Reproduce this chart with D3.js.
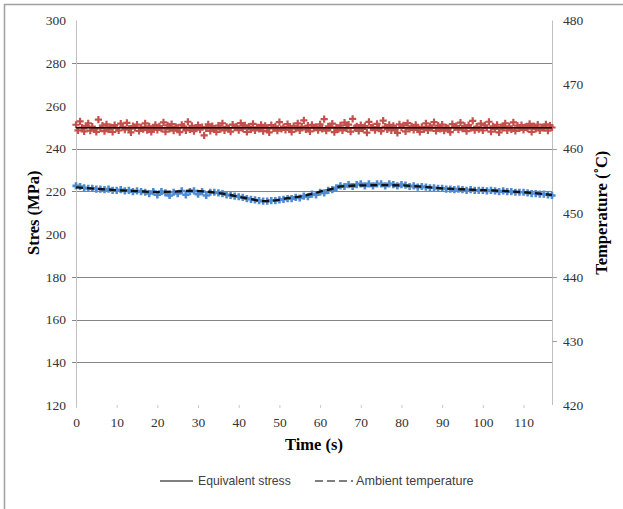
<!DOCTYPE html>
<html>
<head>
<meta charset="utf-8">
<script src="https://cdn.jsdelivr.net/npm/d3@7/dist/d3.min.js"></script>
<style>
  html, body { margin: 0; padding: 0; background: #ffffff; }
  svg { display: block; }
</style>
</head>
<body>
<svg id="chart" width="623" height="509"></svg>
<script>
// ---------------- DATA ----------------
const xTicks = [0, 10, 20, 30, 40, 50, 60, 70, 80, 90, 100, 110];
const leftTicks = [120, 140, 160, 180, 200, 220, 240, 260, 280, 300];
const rightTicks = [420, 430, 440, 450, 460, 470, 480];
const gridValues = [140, 160, 180, 220, 240, 280];
const rightTickMarks = [430, 440, 460];

// Measured stress (red markers), sampled every 0.5 s from 0 to 117 s (MPa)
const stressStep = 0.5;
const stressMeasured = [
  251.2, 248.6, 252.8, 249.9, 248.1, 250.7, 251.9, 248.4, 250.3, 249.2,
  247.9, 253.6, 249.5, 250.8, 248.2, 251.4, 249.0, 250.1, 247.8, 251.0,
  249.6, 248.5, 251.7, 250.2, 248.9, 252.1, 249.3, 247.6, 250.6, 249.8,
  251.3, 248.3, 250.0, 249.1, 251.8, 248.7, 250.4, 247.9, 249.7, 251.1,
  248.8, 250.5, 249.4, 252.3, 248.0, 250.9, 249.2, 251.5, 248.4, 250.2,
  249.7, 247.7, 251.2, 250.3, 248.6, 252.6, 249.0, 250.7, 248.2, 249.9,
  251.0, 248.9, 250.1, 246.2, 249.5, 251.4, 248.3, 250.6, 249.3, 247.9,
  250.8, 249.1, 251.9, 248.5, 250.2, 249.6, 248.0, 251.3, 249.8, 250.4,
  248.7, 252.0, 249.4, 250.9, 247.8, 250.3, 249.0, 251.6, 248.6, 250.0,
  249.3, 251.2, 248.2, 250.7, 249.7, 247.6, 251.0, 249.5, 250.5, 248.4,
  252.4, 249.2, 250.1, 248.8, 251.5, 249.9, 247.9, 250.6, 249.4, 251.8,
  248.5, 250.3, 253.2, 249.0, 250.8, 248.1, 251.1, 249.6, 250.2, 248.7,
  251.4, 249.3, 253.8, 248.4, 250.5, 249.8, 251.7, 247.7, 250.0, 249.1,
  250.9, 248.6, 252.2, 249.5, 251.3, 248.0, 253.9, 249.7, 250.4, 248.3,
  251.0, 249.2, 250.6, 247.5, 252.5, 249.9, 250.1, 248.7, 251.6, 249.4,
  248.2, 253.1, 250.3, 249.0, 251.2, 248.5, 250.7, 249.6, 247.4, 251.4,
  249.8, 250.9, 248.1, 252.0, 249.3, 250.5, 248.8, 251.1, 249.5, 247.8,
  250.2, 249.0, 251.8, 248.6, 250.4, 249.7, 252.4, 248.3, 250.8, 249.2,
  251.3, 248.4, 250.0, 249.5, 247.7, 251.5, 249.9, 250.6, 248.9, 252.2,
  249.4, 250.7, 248.2, 251.0, 249.6, 253.0, 248.7, 250.3, 249.1, 251.7,
  248.5, 250.9, 249.8, 252.6, 248.0, 250.4, 249.3, 251.2, 247.6, 250.1,
  249.7, 251.9, 248.6, 250.5, 249.0, 252.3, 248.3, 250.8, 249.5, 251.0,
  248.8, 250.2, 249.4, 251.6, 247.9, 250.6, 249.2, 251.3, 248.5, 250.0,
  249.6, 251.4, 248.4, 250.8, 249.9
];

// Equivalent stress line (MPa)
const eqStressTime = [0, 117];
const eqStressValues = [249.8, 249.8];

// Measured temperature (blue markers), every 1 s from 0 to 117 s (°C)
const tempStep = 1;
const tempMeasured = [
  454.2, 454.1, 453.9, 453.8, 453.8, 453.7, 453.7, 453.6, 453.7, 453.5,
  453.5, 453.6, 453.4, 453.5, 453.3, 453.4, 453.3, 453.2, 453.0, 453.3,
  452.8, 453.3, 453.1, 452.7, 453.2, 453.0, 453.4, 452.8, 453.3, 453.4,
  452.9, 453.3, 452.7, 453.2, 453.2, 453.1, 453.0, 452.8, 452.7, 452.6,
  452.5, 452.4, 452.2, 452.1, 452.0, 451.9, 451.8, 451.8, 451.9, 451.9,
  452.0, 452.1, 452.2, 452.2, 452.4, 452.3, 452.6, 452.5, 452.9, 452.8,
  453.2, 453.1, 453.5, 453.6, 453.9, 454.2, 454.1, 454.4, 454.1, 454.4,
  454.5, 454.2, 454.5, 454.2, 454.5, 454.5, 454.2, 454.5, 454.4, 454.2,
  454.4, 454.3, 454.1, 454.2, 454.0, 454.1, 454.0, 453.9, 453.9, 453.8,
  453.8, 453.7, 453.7, 453.6, 453.7, 453.6, 453.5, 453.6, 453.5, 453.5,
  453.5, 453.4, 453.5, 453.4, 453.3, 453.4, 453.3, 453.3, 453.2, 453.2,
  453.2, 453.1, 453.0, 453.0, 452.9, 452.9, 452.8, 452.7
];

// Ambient temperature (dashed line), °C
const ambientTime = [0, 5, 10, 15, 20, 25, 28, 32, 35, 38, 40, 43, 46, 49, 52, 55, 58, 60, 63, 65, 70, 75, 80, 85, 90, 95, 100, 105, 110, 114, 117];
const ambientTemp = [453.97, 453.73, 453.53, 453.37, 453.23, 453.33, 453.43, 453.30, 453.07, 452.77, 452.50, 452.13, 451.80, 451.93, 452.27, 452.53, 452.93, 453.30, 453.73, 454.10, 454.27, 454.30, 454.27, 454.07, 453.80, 453.67, 453.53, 453.40, 453.20, 453.00, 452.77];

const legendLabels = ["Equivalent stress", "Ambient temperature"];

// ---------------- CHART ----------------
const svg = d3.select("#chart");
const plot = { left: 76, right: 552, top: 20.5, bottom: 405 };

const x = d3.scaleLinear().domain([0, 117]).range([plot.left, plot.right]);
const yL = d3.scaleLinear().domain([120, 300]).range([plot.bottom, plot.top]);
const yR = d3.scaleLinear().domain([420, 480]).range([plot.bottom, plot.top]);

const serif = "'Liberation Serif', 'Times New Roman', serif";
const sans = "'Liberation Sans', Arial, sans-serif";

// outer border
svg.append("rect")
  .attr("x", 4.5).attr("y", 4.5).attr("width", 700).attr("height", 600)
  .attr("fill", "none").attr("stroke", "#a0a0a0").attr("stroke-width", 1.5);

// gridlines
svg.append("g").selectAll("line").data(gridValues).join("line")
  .attr("x1", plot.left - 4).attr("x2", plot.right)
  .attr("y1", d => Math.round(yL(d)) + 0.5).attr("y2", d => Math.round(yL(d)) + 0.5)
  .attr("stroke", "#858585").attr("stroke-width", 1);

// axis lines
svg.append("line")
  .attr("x1", plot.left + 0.5).attr("x2", plot.left + 0.5)
  .attr("y1", plot.top).attr("y2", plot.bottom + 2)
  .attr("stroke", "#c0c0c0").attr("stroke-width", 1);
svg.append("line")
  .attr("x1", plot.right + 0.5).attr("x2", plot.right + 0.5)
  .attr("y1", plot.top).attr("y2", plot.bottom)
  .attr("stroke", "#c0c0c0").attr("stroke-width", 1);

// right tick marks
svg.append("g").selectAll("line").data(rightTickMarks).join("line")
  .attr("x1", plot.right).attr("x2", plot.right + 5)
  .attr("y1", d => Math.round(yR(d)) + 0.5).attr("y2", d => Math.round(yR(d)) + 0.5)
  .attr("stroke", "#a0a0a0").attr("stroke-width", 1);

// bottom axis
const gx = svg.append("g").attr("transform", `translate(0,${plot.bottom})`)
  .call(d3.axisBottom(x).tickValues(xTicks).tickSize(3).tickPadding(9).tickFormat(d3.format("d")));
gx.select(".domain").remove();
gx.selectAll(".tick line").attr("stroke", "#c8c8c8");
gx.selectAll(".tick text").attr("font-family", serif).attr("font-size", 13.5).attr("fill", "#333");

// left axis
const gl = svg.append("g").attr("transform", `translate(${plot.left},0)`)
  .call(d3.axisLeft(yL).tickValues(leftTicks).tickSize(0).tickPadding(10));
gl.select(".domain").remove();
gl.selectAll(".tick text").attr("font-family", serif).attr("font-size", 13.5).attr("fill", "#333");

// right axis
const gr = svg.append("g").attr("transform", `translate(${plot.right},0)`)
  .call(d3.axisRight(yR).tickValues(rightTicks).tickSize(0).tickPadding(11));
gr.select(".domain").remove();
gr.selectAll(".tick text").attr("font-family", serif).attr("font-size", 13.5).attr("fill", "#333");

// axis titles
svg.append("text")
  .attr("transform", `translate(33,${(plot.top + plot.bottom) / 2}) rotate(-90)`)
  .attr("text-anchor", "middle").attr("dominant-baseline", "central")
  .attr("font-family", serif).attr("font-weight", "bold").attr("font-size", 16.5)
  .text("Stres (MPa)");
svg.append("text")
  .attr("transform", `translate(601,${(plot.top + plot.bottom) / 2}) rotate(-90)`)
  .attr("text-anchor", "middle").attr("dominant-baseline", "central")
  .attr("font-family", serif).attr("font-weight", "bold").attr("font-size", 16.5)
  .text("Temperature (˚C)");
svg.append("text")
  .attr("x", (plot.left + plot.right) / 2).attr("y", 450)
  .attr("text-anchor", "middle")
  .attr("font-family", serif).attr("font-weight", "bold").attr("font-size", 16.5)
  .text("Time (s)");

// plus marker path
function plusPath(cx, cy, r) {
  return `M${cx - r},${cy}H${cx + r}M${cx},${cy - r}V${cy + r}`;
}

// red measured stress markers
const redPts = stressMeasured.map((v, i) => ({ t: i * stressStep, v }));
svg.append("path")
  .attr("d", redPts.map(d => plusPath(x(d.t), yL(d.v), 3.6)).join(""))
  .attr("fill", "none").attr("stroke", "#c4504c").attr("stroke-width", 2.2);

// equivalent stress line
const lineL = d3.line().x(d => x(d[0])).y(d => yL(d[1]));
svg.append("path")
  .attr("d", lineL(eqStressTime.map((t, i) => [t, eqStressValues[i]])))
  .attr("fill", "none").attr("stroke", "#000").attr("stroke-width", 1.3);

// blue measured temperature markers
const bluePts = tempMeasured.map((v, i) => ({ t: i * tempStep, v }));
svg.append("path")
  .attr("d", bluePts.map(d => plusPath(x(d.t), yR(d.v), 3.6)).join(""))
  .attr("fill", "none").attr("stroke", "#4f8bd0").attr("stroke-width", 2.6);

// ambient temperature dashed line
const lineR = d3.line().curve(d3.curveMonotoneX).x(d => x(d[0])).y(d => yR(d[1]));
svg.append("path")
  .attr("d", lineR(ambientTime.map((t, i) => [t, ambientTemp[i]])))
  .attr("fill", "none").attr("stroke", "#111").attr("stroke-width", 2.3)
  .attr("stroke-dasharray", "7,4");

// legend
const lg = svg.append("g");
lg.append("line").attr("x1", 160).attr("x2", 193).attr("y1", 481).attr("y2", 481)
  .attr("stroke", "#000").attr("stroke-width", 1.2);
lg.append("text").attr("x", 198).attr("y", 481).attr("dominant-baseline", "central")
  .attr("font-family", sans).attr("font-size", 12.2).attr("fill", "#404040")
  .text(legendLabels[0]);
lg.append("line").attr("x1", 315).attr("x2", 353).attr("y1", 481).attr("y2", 481)
  .attr("stroke", "#000").attr("stroke-width", 1.2).attr("stroke-dasharray", "8,4");
lg.append("text").attr("x", 356).attr("y", 481).attr("dominant-baseline", "central")
  .attr("font-family", sans).attr("font-size", 12.6).attr("fill", "#404040")
  .text(legendLabels[1]);
</script>
</body>
</html>
